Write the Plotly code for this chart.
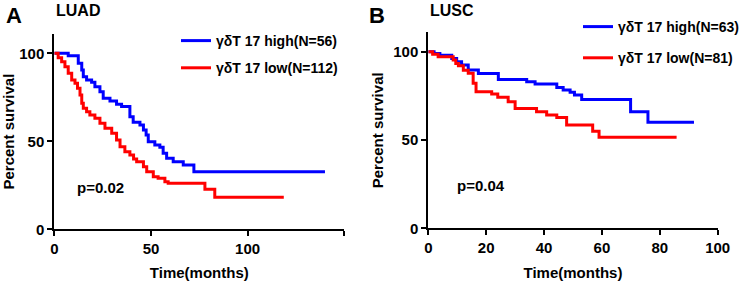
import plotly.graph_objects as go

# ---------------- data ----------------
# Panel A : LUAD
luad_high_t = [0, 7.2, 12.4, 14.2, 15.0, 16.7, 19.3, 21.0, 23.6, 25.3, 28.8, 32.2, 34.8, 39.1, 40.8,
               44.3, 46.1, 47.5, 48.6, 52.0, 54.6, 56.3, 58.1, 61.5, 66.7, 72.2, 140.0]
luad_high_s = [100, 98.6, 94.3, 90.5, 86.7, 84.8, 83.5, 81.0, 78.2, 74.4, 72.9, 71.0, 69.7, 64.0, 60.8,
               59.3, 56.4, 53.6, 49.8, 47.9, 46.6, 43.2, 40.3, 38.4, 36.5, 32.7, 32.7]
luad_low_t = [0, 2.0, 3.8, 5.5, 7.2, 9.0, 10.7, 12.0, 13.3, 14.2, 15.0, 16.7, 18.4, 21.0, 23.6, 26.2,
              29.7, 32.2, 34.0, 36.5, 39.1, 41.0, 42.6, 46.1, 47.8, 51.2, 53.7, 57.2, 58.9, 77.9, 83.0, 118.7]
luad_low_s = [100, 97.5, 95.2, 92.4, 88.6, 84.8, 83.0, 80.1, 76.3, 71.6, 68.8, 66.8, 64.9, 63.1, 60.2, 57.4,
              54.5, 50.7, 46.9, 44.1, 42.2, 40.0, 38.4, 35.6, 32.7, 29.9, 29.0, 27.0, 26.1, 22.7, 18.2, 18.2]

# Panel B : LUSC
lusc_high_t = [0, 2.0, 4.0, 8.1, 9.8, 11.5, 13.8, 17.3, 24.2, 34.0, 36.9, 44.4, 46.6, 49.0, 50.5, 53.0,
               69.9, 75.9, 91.8]
lusc_high_s = [100, 99.0, 98.0, 96.2, 94.3, 92.5, 89.6, 87.7, 84.3, 83.0, 81.7, 79.8, 78.3, 77.0, 75.5, 73.0,
               66.0, 60.0, 60.0]
lusc_low_t = [0, 1.5, 3.4, 8.6, 9.5, 10.4, 12.1, 13.8, 15.5, 16.5, 21.9, 24.0, 27.6, 30.0, 37.4, 40.9,
              44.4, 47.8, 56.8, 59.0, 85.8]
lusc_low_s = [100, 98.5, 97.2, 95.3, 93.4, 92.0, 89.5, 87.8, 82.1, 77.4, 76.0, 74.2, 71.7, 67.9, 66.0, 64.2,
              62.8, 58.5, 55.0, 51.5, 51.5]

names_a = ["γδT 17 high(N=56)", "γδT 17 low(N=112)"]
names_b = ["γδT 17 high(N=63)", "γδT 17 low(N=81)"]
colors = ["#0000FF", "#FF0000"]

FONT = "Arial, Liberation Sans, Helvetica, sans-serif"
W, H = 749, 281

fig = go.Figure()

fig.add_trace(go.Scatter(x=luad_high_t, y=luad_high_s, mode="lines", line=dict(shape="hv", color=colors[0], width=3),
                         name=names_a[0], xaxis="x", yaxis="y", legend="legend", legendgroup="a1"))
fig.add_trace(go.Scatter(x=luad_low_t, y=luad_low_s, mode="lines", line=dict(shape="hv", color=colors[1], width=3),
                         name=names_a[1], xaxis="x", yaxis="y", legend="legend", legendgroup="a2"))
fig.add_trace(go.Scatter(x=lusc_high_t, y=lusc_high_s, mode="lines", line=dict(shape="hv", color=colors[0], width=3),
                         name=names_b[0], xaxis="x2", yaxis="y2", legend="legend2", legendgroup="b1"))
fig.add_trace(go.Scatter(x=lusc_low_t, y=lusc_low_s, mode="lines", line=dict(shape="hv", color=colors[1], width=3),
                         name=names_b[1], xaxis="x2", yaxis="y2", legend="legend2", legendgroup="b2"))

axis_common = dict(showline=True, linecolor="black", linewidth=2, ticks="outside", ticklen=5, tickwidth=2,
                   tickcolor="black", showgrid=False, zeroline=False, automargin=False,
                   tickfont=dict(family=FONT, size=15, color="black", weight="bold"))
title_font = dict(family=FONT, size=15, weight="bold", color="black")
legend_font = dict(family=FONT, size=14, color="black", weight="bold")

fig.update_layout(
    width=W, height=H, margin=dict(l=0, r=0, t=0, b=0, autoexpand=False),
    paper_bgcolor="white", plot_bgcolor="white",
    font=dict(family=FONT, color="black"),
    xaxis=dict(domain=[54.3 / W, 344.3 / W], range=[0, 150], tickvals=[0, 50, 100, 150],
               ticktext=["0", "50", "100", ""], anchor="y",
               title=dict(text="Time(months)", font=title_font, standoff=12),
               **axis_common),
    yaxis=dict(domain=[(H - 229.3) / H, (H - 33.9) / H], range=[0, 111], tickvals=[0, 50, 100], anchor="x",
               title=dict(text="Percent survival", font=title_font, standoff=6),
               **axis_common),
    xaxis2=dict(domain=[428.3 / W, 717.7 / W], range=[0, 100], tickvals=[0, 20, 40, 60, 80, 100], anchor="y2",
                title=dict(text="Time(months)", font=title_font, standoff=12),
                **axis_common),
    yaxis2=dict(domain=[(H - 228.3) / H, (H - 32.3) / H], range=[0, 111], tickvals=[0, 50, 100], anchor="x2",
                title=dict(text="Percent survival", font=title_font, standoff=6),
                **axis_common),
    legend=dict(x=176 / W, y=1 - 25 / H, xanchor="left", yanchor="top", bgcolor="rgba(0,0,0,0)",
                font=legend_font, tracegroupgap=6, itemwidth=30),
    legend2=dict(x=578 / W, y=1 - 11 / H, xanchor="left", yanchor="top", bgcolor="rgba(0,0,0,0)",
                 font=legend_font, tracegroupgap=10, itemwidth=30),
    showlegend=True,
)

annos = [
    dict(text="A", x=4 / W, y=1 - 15 / H, size=22),
    dict(text="LUAD", x=54 / W, y=1 - 11 / H, size=16),
    dict(text="B", x=367 / W, y=1 - 15 / H, size=22),
    dict(text="LUSC", x=428 / W, y=1 - 11 / H, size=16),
]
for a in annos:
    fig.add_annotation(xref="paper", yref="paper", xanchor="left", yanchor="middle", showarrow=False,
                       text=a["text"], x=a["x"], y=a["y"],
                       font=dict(family=FONT, color="black", weight="bold", size=a["size"]))

fig.add_annotation(xref="x", yref="y", x=10.7, y=24, text="p=0.02", showarrow=False, xanchor="left",
                   yanchor="middle", font=dict(family=FONT, size=15, color="black", weight="bold"))
fig.add_annotation(xref="x2", yref="y2", x=9.2, y=24.5, text="p=0.04", showarrow=False, xanchor="left",
                   yanchor="middle", font=dict(family=FONT, size=15, color="black", weight="bold"))

# remove the browser's default page margin so the 749x281 figure fills the window exactly
fig.write_html("out.html", config={"displayModeBar": False},
               post_script="document.body.style.margin='0px';document.body.style.overflow='hidden';")
